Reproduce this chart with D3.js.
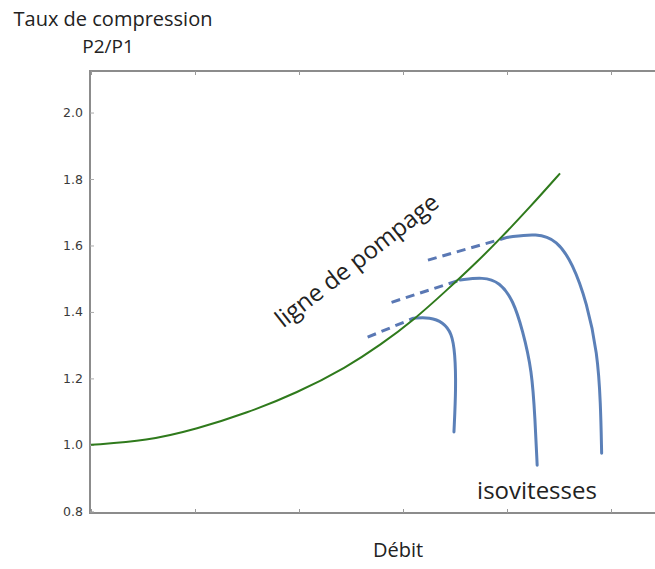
<!DOCTYPE html>
<html>
<head>
<meta charset="utf-8">
<script src="https://cdn.jsdelivr.net/npm/d3@7"></script>
<style>
  html, body { margin: 0; padding: 0; background: #fff; }
  svg { display: block; }
</style>
</head>
<body>
<svg id="chart" width="655" height="569"></svg>
<script>
// Compressor map: surge line and constant-speed curves
const yTicks = [0.8, 1.0, 1.2, 1.4, 1.6, 1.8, 2.0];
const xTicks = [0, 1, 2, 3, 4, 5];

// surge line ("ligne de pompage")
const surgeX = [0, 0.54, 1.02, 1.5, 1.98, 2.46, 2.78, 3.10, 3.42, 3.74, 3.93, 4.22, 4.51];
const surgeY = [1.0, 1.012, 1.048, 1.096, 1.156, 1.234, 1.300, 1.375, 1.465, 1.559, 1.619, 1.715, 1.817];

// constant-speed curves ("isovitesses")
const speed1X = [3.10, 3.26, 3.385, 3.47, 3.50, 3.51, 3.49];
const speed1Y = [1.381, 1.384, 1.369, 1.336, 1.276, 1.174, 1.039];
const speed2X = [3.55, 3.77, 3.93, 4.06, 4.15, 4.24, 4.27, 4.29];
const speed2Y = [1.496, 1.505, 1.490, 1.435, 1.345, 1.225, 1.075, 0.939];
const speed3X = [4.01, 4.29, 4.48, 4.63, 4.77, 4.87, 4.90, 4.91];
const speed3Y = [1.625, 1.637, 1.616, 1.547, 1.426, 1.276, 1.126, 0.975];

// dashed extensions beyond the surge line
const dashX = [[2.66, 3.10], [2.89, 3.55], [3.24, 4.01]];
const dashY = [[1.324, 1.381], [1.429, 1.496], [1.556, 1.625]];

const svg = d3.select("#chart");
const plotLeft = 91, plotRight = 663, plotTop = 71, plotBottom = 513;

const x = d3.scaleLinear().domain([0, 5.5]).range([plotLeft, plotRight]);
const y = d3.scaleLinear().domain([0.795, 2.125]).range([plotBottom, plotTop]);

const axisColor = "#8c8c8c";
const textFont = "'Open Sans', 'Noto Sans', sans-serif";

// frame (left, top, bottom)
const frame = svg.append("g");
frame.append("line").attr("x1", plotLeft - 1).attr("x2", plotLeft - 1).attr("y1", plotTop).attr("y2", plotBottom)
  .attr("stroke", axisColor).attr("stroke-width", 2);
frame.append("line").attr("x1", plotLeft - 2).attr("x2", 655).attr("y1", plotTop).attr("y2", plotTop)
  .attr("stroke", axisColor).attr("stroke-width", 2);
frame.append("line").attr("x1", plotLeft - 2).attr("x2", 655).attr("y1", plotBottom).attr("y2", plotBottom)
  .attr("stroke", axisColor).attr("stroke-width", 2);

// y axis: inward ticks with labels
const yAxis = d3.axisRight(y).tickValues(yTicks).tickSize(4).tickFormat(d3.format(".1f"));
const gy = svg.append("g").attr("transform", `translate(${plotLeft - 1},0)`).call(yAxis);
gy.select(".domain").remove();
gy.selectAll(".tick line").attr("stroke", "#aaa").attr("stroke-width", 1);
gy.selectAll(".tick text")
  .attr("x", -7).attr("text-anchor", "end")
  .attr("fill", "#3a3a3a").attr("font-size", 12.5)
  .attr("font-family", "'DejaVu Sans', sans-serif");

// x axis: inward ticks on bottom and top, no labels
const xBottom = d3.axisTop(x).tickValues(xTicks).tickSize(4).tickFormat("");
const gxb = svg.append("g").attr("transform", `translate(0,${plotBottom})`).call(xBottom);
gxb.select(".domain").remove();
gxb.selectAll(".tick line").attr("stroke", "#999");
const xTop = d3.axisBottom(x).tickValues(xTicks).tickSize(4).tickFormat("");
const gxt = svg.append("g").attr("transform", `translate(0,${plotTop})`).call(xTop);
gxt.select(".domain").remove();
gxt.selectAll(".tick line").attr("stroke", "#999");

const zip = (a, b) => a.map((v, i) => [v, b[i]]);
const surgeLine = d3.line().x(d => x(d[0])).y(d => y(d[1])).curve(d3.curveBasis);
const speedLine = d3.line().x(d => x(d[0])).y(d => y(d[1])).curve(d3.curveBasis);

// dashed extensions
dashX.forEach((xs, i) => {
  svg.append("path")
    .datum(zip(xs, dashY[i]))
    .attr("d", d3.line().x(d => x(d[0])).y(d => y(d[1])))
    .attr("fill", "none").attr("stroke", "#5a78b4").attr("stroke-width", 3)
    .attr("stroke-dasharray", "9,6");
});

// constant-speed curves
[[speed1X, speed1Y], [speed2X, speed2Y], [speed3X, speed3Y]].forEach(([xs, ys]) => {
  svg.append("path")
    .datum(zip(xs, ys))
    .attr("d", speedLine)
    .attr("fill", "none").attr("stroke", "#5b80b8").attr("stroke-width", 3)
    .attr("stroke-linecap", "round");
});

// surge line
svg.append("path")
  .datum(zip(surgeX, surgeY))
  .attr("d", surgeLine)
  .attr("fill", "none").attr("stroke", "#2f7a1c").attr("stroke-width", 2);

// labels
svg.append("text").attr("x", 113).attr("y", 26).attr("text-anchor", "middle")
  .attr("font-family", textFont).attr("font-size", 20).attr("fill", "#222")
  .text("Taux de compression");
svg.append("text").attr("x", 108).attr("y", 53).attr("text-anchor", "middle")
  .attr("font-family", textFont).attr("font-size", 19).attr("fill", "#222")
  .text("P2/P1");
svg.append("text").attr("x", 398).attr("y", 557).attr("text-anchor", "middle")
  .attr("font-family", textFont).attr("font-size", 20).attr("fill", "#222")
  .text("Débit");
svg.append("text").attr("x", 537).attr("y", 499).attr("text-anchor", "middle")
  .attr("font-family", textFont).attr("font-size", 24).attr("fill", "#222")
  .text("isovitesses");
svg.append("text")
  .attr("transform", "translate(362,267) rotate(-38)")
  .attr("text-anchor", "middle")
  .attr("font-family", textFont).attr("font-size", 24).attr("fill", "#222")
  .text("ligne de pompage");
</script>
</body>
</html>
